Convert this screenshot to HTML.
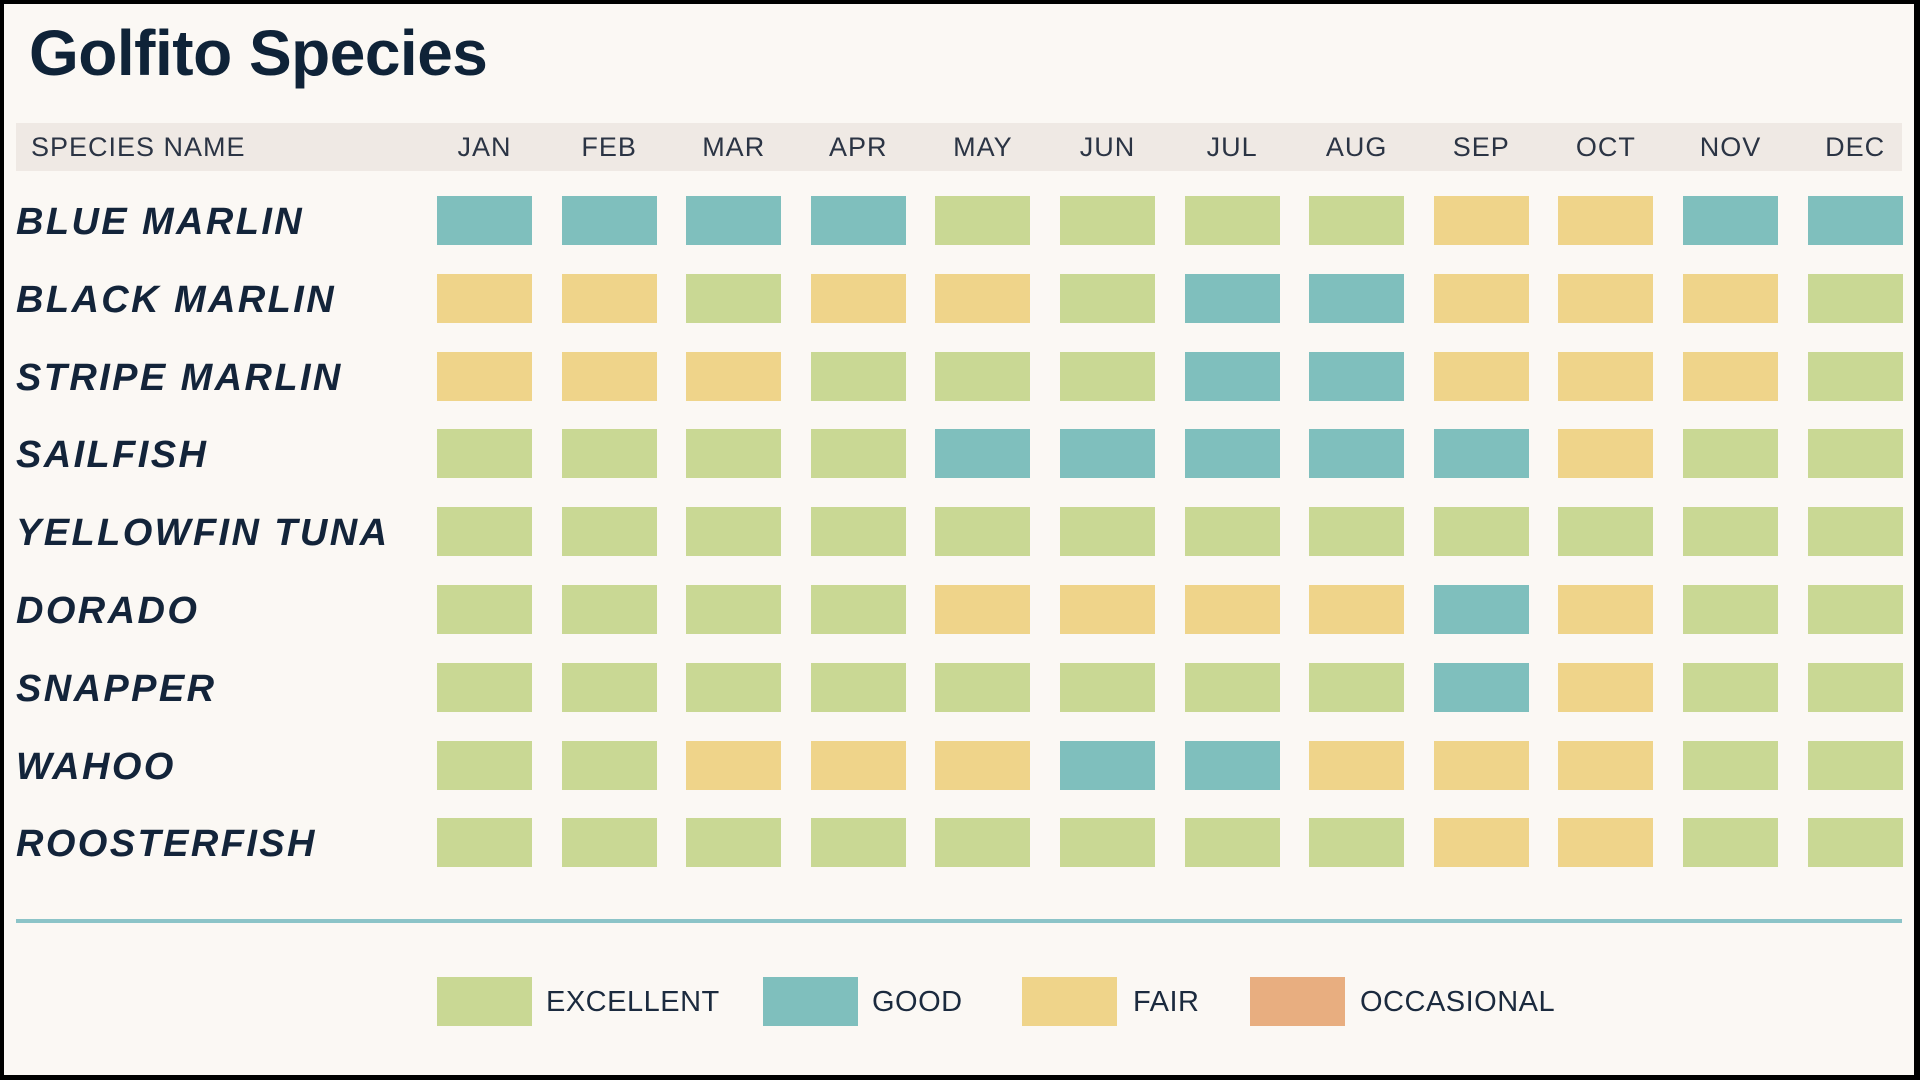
<!DOCTYPE html>
<html><head><meta charset="utf-8"><style>
html,body{margin:0;padding:0}
body{width:1920px;height:1080px;position:relative;overflow:hidden;background:#000;font-family:"Liberation Sans",sans-serif}
#page{position:absolute;left:4px;top:4px;width:1910px;height:1071px;background:#fbf8f4}
.a{position:absolute}
.t{position:absolute;white-space:nowrap}
.lbl{font-weight:bold;font-style:italic;font-size:38px;color:#13243a;letter-spacing:2.4px}
.mon{font-size:27px;color:#2b3444;width:120px;text-align:center;top:132px;letter-spacing:1px}
.c{position:absolute;width:95px;height:49px}
.G{background:#c9d894}.T{background:#7fbfbd}.Y{background:#efd48a}.O{background:#e8ae80}
.lg{font-size:29px;color:#1b2a3e;letter-spacing:0.5px}
</style></head><body>
<div id="page"></div>
<div class="t" style="left:29px;top:16px;font-size:64px;font-weight:bold;color:#0f2338;letter-spacing:-0.5px">Golfito Species</div>
<div class="a" style="left:16px;top:123px;width:1886px;height:48px;background:#efe9e4"></div>
<div class="t" style="left:31px;top:132px;font-size:27px;color:#2b3444;letter-spacing:1px">SPECIES NAME</div>
<div id="g"></div>
<div class="a" style="left:16px;top:919px;width:1886px;height:4px;background:#8cc4c8"></div>
<div class="c G" style="left:437px;top:977px"></div><div class="t lg" style="left:546px;top:986px">EXCELLENT</div>
<div class="c T" style="left:763px;top:977px"></div><div class="t lg" style="left:872px;top:986px">GOOD</div>
<div class="c Y" style="left:1022px;top:977px"></div><div class="t lg" style="left:1133px;top:986px">FAIR</div>
<div class="c O" style="left:1250px;top:977px"></div><div class="t lg" style="left:1360px;top:986px">OCCASIONAL</div>
<script>
var m=["JAN","FEB","MAR","APR","MAY","JUN","JUL","AUG","SEP","OCT","NOV","DEC"];
var rows=[["BLUE MARLIN","TTTTGGGGYYTT"],["BLACK MARLIN","YYGYYGTTYYYG"],["STRIPE MARLIN","YYYGGGTTYYYG"],["SAILFISH","GGGGTTTTTYGG"],["YELLOWFIN TUNA","GGGGGGGGGGGG"],["DORADO","GGGGYYYYTYGG"],["SNAPPER","GGGGGGGGTYGG"],["WAHOO","GGYYYTTYYYGG"],["ROOSTERFISH","GGGGGGGGYYGG"]];
var h="";
for(var i=0;i<12;i++){var x=437+i*124.6;h+='<div class="t mon" style="left:'+(x-12.5)+'px">'+m[i]+'</div>';}
for(var r=0;r<9;r++){var y=196+r*77.8;h+='<div class="t lbl" style="left:16px;top:'+(y+5)+'px">'+rows[r][0]+'</div>';
for(var i=0;i<12;i++){h+='<div class="c '+rows[r][1][i]+'" style="left:'+(437+i*124.6)+'px;top:'+y+'px"></div>';}}
document.getElementById("g").innerHTML=h;
</script>
</body></html>
